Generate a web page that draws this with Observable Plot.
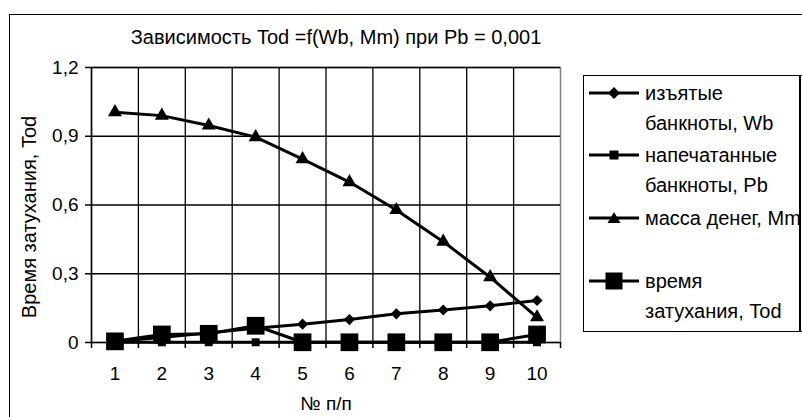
<!DOCTYPE html>
<html>
<head>
<meta charset="utf-8">
<script src="https://cdn.jsdelivr.net/npm/d3@7"></script>
<script src="https://cdn.jsdelivr.net/npm/@observablehq/plot@0.6"></script>
<style>
  html, body { margin: 0; padding: 0; background: #fff; overflow: hidden; }
  #wrap { position: relative; width: 802px; height: 417px; overflow: hidden; font-family: "Liberation Sans", Arial, sans-serif; }
  #frame { position: absolute; left: 9px; top: 14px; width: 820px; height: 430px; border: 1.5px solid #000; box-sizing: border-box; }
  #chart { position: absolute; left: 0; top: 0; }
  #legend { position: absolute; left: 583px; top: 75px; width: 230px; height: 257px; border: 1.5px solid #000; border-right: none; box-sizing: border-box; background: #fff; }
  #legendRight { position: absolute; left: 799px; top: 75px; width: 1.5px; height: 257px; background: #000; }
  .lt { position: absolute; font-size: 20px; line-height: 20px; color: #000; white-space: nowrap; }
  .ls { position: absolute; }
</style>
</head>
<body>
<div id="wrap">
  <div id="frame"></div>
  <div id="chart"></div>
  <div id="legend"></div>
  <div id="legendRight"></div>
</div>
<script>
// ---- data ----
const categories = [1, 2, 3, 4, 5, 6, 7, 8, 9, 10];
const wbValues  = [0.005, 0.022, 0.042, 0.062, 0.08, 0.10, 0.125, 0.142, 0.16, 0.183];
const pbValues  = [0.001, 0.001, 0.001, 0.001, 0.001, 0.001, 0.001, 0.001, 0.001, 0.001];
const mmValues  = [1.005, 0.99, 0.947, 0.896, 0.80, 0.70, 0.578, 0.44, 0.285, 0.11];
const todValues = [0.005, 0.035, 0.038, 0.073, 0.001, 0.001, 0.001, 0.001, 0.001, 0.035];
const yTicks = [0, 0.3, 0.6, 0.9, 1.2];
const seriesNames = ["изъятые банкноты, Wb", "напечатанные банкноты, Pb", "масса денег, Mm", "время затухания, Tod"];
const legendLines = [["изъятые", "банкноты, Wb"], ["напечатанные", "банкноты, Pb"], ["масса денег, Mm"], ["время", "затухания, Tod"]];
const titleText = "Зависимость Tod =f(Wb, Mm) при Pb = 0,001";
const yLabel = "Время затухания, Tod";
const xLabel = "№ п/п";

const rows = (vals) => categories.map((c, i) => ({x: c, y: vals[i]}));
const wb = rows(wbValues), pb = rows(pbValues), mm = rows(mmValues), tod = rows(todValues);
const bounds = d3.range(0.5, 10.51, 1);
const inner = d3.range(1.5, 9.51, 1);
const comma = (v) => String(v).replace(".", ",");
const font = "Liberation Sans, Arial, sans-serif";

const chart = Plot.plot({
  width: 802, height: 417,
  marginLeft: 91, marginRight: 242, marginTop: 67, marginBottom: 75,
  style: {fontFamily: font, fontSize: "19px", color: "#000", background: "transparent"},
  x: {domain: [0.5, 10.5], axis: null},
  y: {domain: [0, 1.2], axis: null},
  marks: [
    Plot.frame({stroke: "#808080", strokeWidth: 1.5}),
    Plot.ruleY(yTicks.slice(1), {stroke: "#000", strokeWidth: 1.3}),
    Plot.ruleX(inner, {stroke: "#000", strokeWidth: 1.3}),
    Plot.axisY({ticks: yTicks, tickSize: 6, tickPadding: 7, tickFormat: comma, label: null, fontSize: 19, strokeWidth: 1.5}),
    Plot.axisX({ticks: bounds, tickSize: 6, tickFormat: () => "", label: null, strokeWidth: 1.5}),
    Plot.axisX({ticks: categories, tickSize: 0, tickPadding: 24, tickFormat: (d) => String(d), label: null, fontSize: 19}),
    Plot.ruleX([0.5], {stroke: "#000", strokeWidth: 1.5}),
    Plot.ruleY([0], {stroke: "#000", strokeWidth: 1.5}),
    // series
    Plot.line(mm, {x: "x", y: "y", stroke: "#000", strokeWidth: 3}),
    Plot.dot(mm, {x: "x", y: "y", symbol: "triangle", r: 5.2, fill: "#000", stroke: null}),
    Plot.line(wb, {x: "x", y: "y", stroke: "#000", strokeWidth: 3}),
    Plot.dot(wb, {x: "x", y: "y", symbol: "diamond2", r: 5, fill: "#000", stroke: null}),
    Plot.line(pb, {x: "x", y: "y", stroke: "#000", strokeWidth: 3}),
    Plot.dot(pb, {x: "x", y: "y", symbol: "square", r: 4.5, fill: "#000", stroke: null}),
    Plot.line(tod, {x: "x", y: "y", stroke: "#000", strokeWidth: 3}),
    Plot.dot(tod, {x: "x", y: "y", symbol: "square", r: 10, fill: "#000", stroke: null}),
    // texts
    Plot.text([titleText], {frameAnchor: "top", dy: -38, dx: 10, fontSize: 20}),
    Plot.text([yLabel], {frameAnchor: "left", textAnchor: "middle", dx: -62, dy: 12, rotate: -90, fontSize: 20, letterSpacing: "1px"}),
    Plot.text([xLabel], {frameAnchor: "bottom", dy: 67, fontSize: 19})
  ]
});
document.getElementById("chart").appendChild(chart);

// ---- legend ----
const legend = document.getElementById("legend");
const symbolSvg = [
  `<path d="M-6,0 L0,-6 L6,0 L0,6 Z" fill="#000"/>`,
  `<rect x="-4.5" y="-4.5" width="9" height="9" fill="#000"/>`,
  `<path d="M0,-6 L6.5,5 L-6.5,5 Z" fill="#000"/>`,
  `<rect x="-8.5" y="-8.5" width="17" height="17" fill="#000"/>`
];
const entryTops = [17, 79, 142, 205]; // line positions relative to box (px)
const lineStep = 30;
legendLines.forEach((lines, k) => {
  const cy = entryTops[k];
  const s = document.createElementNS("http://www.w3.org/2000/svg", "svg");
  s.setAttribute("class", "ls");
  s.setAttribute("width", 54); s.setAttribute("height", 24);
  s.style.left = "3px"; s.style.top = (cy - 12) + "px";
  s.innerHTML = `<g transform="translate(27,12)"><line x1="-25" x2="25" y1="0" y2="0" stroke="#000" stroke-width="3"/>${symbolSvg[k]}</g>`;
  legend.appendChild(s);
  lines.forEach((t, j) => {
    const d = document.createElement("div");
    d.className = "lt";
    d.textContent = t;
    d.style.left = "61px";
    d.style.top = (cy - 10 + j * lineStep) + "px";
    legend.appendChild(d);
  });
});
</script>
</body>
</html>
